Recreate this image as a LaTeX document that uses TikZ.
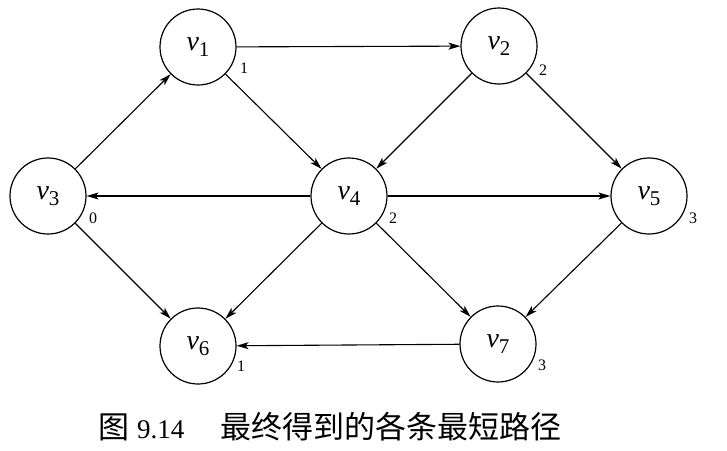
\documentclass[tikz,border=0pt]{standalone}
\usepackage{fontspec}
\setmainfont{Liberation Serif}
\newfontfamily\cjk{Noto Sans CJK SC}
\usetikzlibrary{arrows.meta}
\newcommand\vlab[1]{\fontsize{28}{28}\selectfont\textit{v}\raisebox{-6pt}{\smash{\fontsize{21}{21}\selectfont #1}}}
\begin{document}
\begin{tikzpicture}[x=1pt,y=-1pt,
  vtx/.style={circle,draw,line width=1.2pt,minimum size=76pt,inner sep=0pt},
  edge/.style={line width=1.1pt,-{Stealth[length=12pt,width=7pt,inset=3pt]}},
  dist/.style={font=\fontsize{16}{16}\selectfont,inner sep=0pt}]
\useasboundingbox (0,0) rectangle (727,450);
\node[vtx] (v1) at (198,47) {\vlab{1}};
\node[vtx] (v2) at (499,46) {\vlab{2}};
\node[vtx] (v3) at (48,196) {\vlab{3}};
\node[vtx] (v4) at (349,196) {\vlab{4}};
\node[vtx] (v5) at (649,196) {\vlab{5}};
\node[vtx] (v6) at (198,346) {\vlab{6}};
\node[vtx] (v7) at (498,344) {\vlab{7}};
\node[dist] (d1) at ([shift={(46,21)}]v1.center) {1};
\node[dist] (d2) at ([shift={(44,24)}]v2.center) {2};
\node[dist] (d3) at ([shift={(45,22)}]v3.center) {0};
\node[dist] (d4) at ([shift={(44,22)}]v4.center) {2};
\node[dist] (d5) at ([shift={(44,22)}]v5.center) {3};
\node[dist] (d6) at ([shift={(43,20)}]v6.center) {1};
\node[dist] (d7) at ([shift={(44,21)}]v7.center) {3};
\draw[edge] (v1) -- (v2);
\draw[edge] (v3) -- (v1);
\draw[edge] (v1) -- (v4);
\draw[edge] (v2) -- (v4);
\draw[edge] (v2) -- (v5);
\draw[edge] (v4) -- (v3);
\draw[edge] (v4) -- (v5);
\draw[edge] (v3) -- (v6);
\draw[edge] (v4) -- (v6);
\draw[edge] (v4) -- (v7);
\draw[edge] (v5) -- (v7);
\draw[edge] (v7) -- (v6);
\node[anchor=west,inner sep=0pt] (cap) at (98,427) {{\cjk\fontsize{31}{31}\selectfont 图}\hspace{8pt}{\fontsize{27}{27}\selectfont 9.14}\hspace{36pt}{\cjk\fontsize{31}{31}\selectfont 最终得到的各条最短路径}};
\end{tikzpicture}
\end{document}
